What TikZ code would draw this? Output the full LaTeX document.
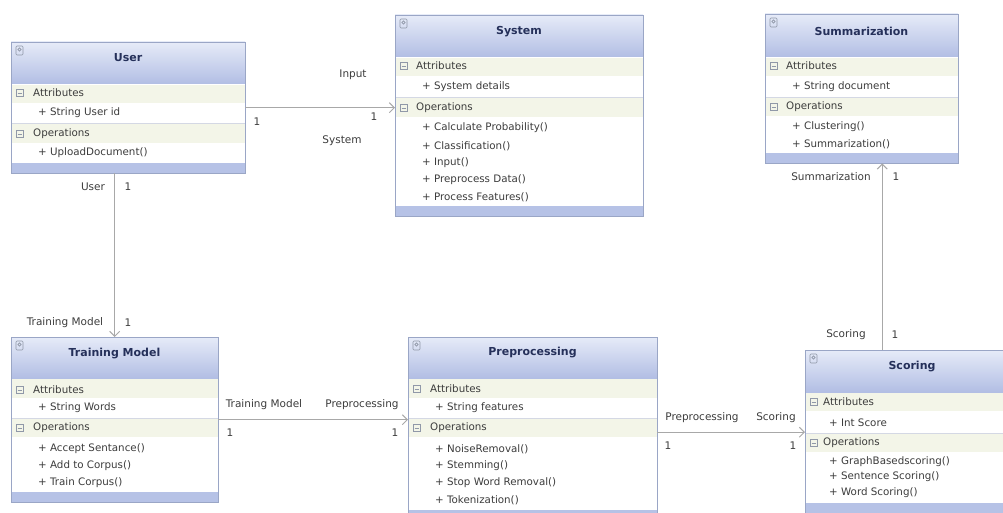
\documentclass[tikz,border=0pt]{standalone}
\usepackage{fontspec}
\setmainfont{DejaVu Sans}
\usetikzlibrary{arrows.meta, positioning}
\definecolor{hdtop}{HTML}{E6EBF8}
\definecolor{hdbot}{HTML}{B2BEE4}
\definecolor{boxline}{HTML}{9AA6C6}
\definecolor{barblue}{HTML}{B6C2E6}
\definecolor{secfill}{HTML}{F3F5E8}
\definecolor{sepline}{HTML}{D4D8E4}
\definecolor{wire}{HTML}{A8A8A8}
\definecolor{txt}{HTML}{3C3C3C}
\definecolor{titletxt}{HTML}{25305A}
\definecolor{icon}{HTML}{9098A8}

\tikzset{
  classbox/.style={fill=white, inner sep=0pt, anchor=north west},
  hdshade/.style={top color=hdtop, bottom color=hdbot},
  classtitle/.style={font=\fontsize{11}{13}\selectfont\bfseries, text=titletxt, inner sep=0pt},
  section/.style={font=\fontsize{10.3}{12}\selectfont, text=txt, anchor=west, inner sep=0pt},
  member/.style={font=\fontsize{10.3}{12}\selectfont, text=txt, anchor=west, inner sep=0pt},
  rolelabel/.style={font=\fontsize{10.5}{12}\selectfont, text=txt, inner sep=1pt},
  iconline/.style={draw=icon, line width=0.6pt},
  assoc/.style={draw=wire, line width=1pt, -{Straight Barb[length=5pt,width=10pt]}},
}

\begin{document}
\begin{tikzpicture}[x=1pt, y=-1pt]
    \useasboundingbox (0,0) rectangle (1003,513);
    \clip (0,0) rectangle (1003,513);

    % User
    \node[classbox, minimum width=234pt, minimum height=131pt] (user) at (11,42) {};
    \shade[hdshade] (11,42) rectangle (245,84);
    \node[classtitle] (usertitle) at (128,58) {User};
    \fill[secfill] (11,85) rectangle (245,103);
    \fill[secfill] (11,124) rectangle (245,143);
    \draw[sepline] (11,123.5) -- (245,123.5);
    \node[section] (userattr) at (33,93) {Attributes};
    \node[member] (userattr1) at (38,113) {+ String User id};
    \node[section] (userops) at (33,134) {Operations};
    \node[member] (userop1) at (38,153) {+ UploadDocument()};
    \fill[barblue] (11,163) rectangle (245,173);
    \draw[boxline] (user.north west) rectangle (user.south east);

    % System
    \node[classbox, minimum width=248pt, minimum height=201pt] (system) at (395,15) {};
    \shade[hdshade] (395,15) rectangle (643,57);
    \node[classtitle] (systemtitle) at (519,32) {System};
    \fill[secfill] (395,58) rectangle (643,76);
    \fill[secfill] (395,98) rectangle (643,117);
    \draw[sepline] (395,97.5) -- (643,97.5);
    \node[section] (systemattr) at (416,66) {Attributes};
    \node[member] (systemattr1) at (422,87) {+ System details};
    \node[section] (systemops) at (416,108) {Operations};
    \foreach \y/\t [count=\i] in {128/+ Calculate Probability(), 146/+ Classification(),
        163/+ Input(), 180/+ Preprocess Data(), 197/+ Process Features()} {
        \node[member] (systemop\i) at (422,\y) {\t};
    }
    \fill[barblue] (395,206) rectangle (643,216);
    \draw[boxline] (system.north west) rectangle (system.south east);

    % Summarization
    \node[classbox, minimum width=193pt, minimum height=149pt] (summ) at (765,14) {};
    \shade[hdshade] (765,14) rectangle (958,57);
    \node[classtitle] (summtitle) at (861.5,31) {Summarization};
    \fill[secfill] (765,58) rectangle (958,76);
    \fill[secfill] (765,98) rectangle (958,116);
    \draw[sepline] (765,97.5) -- (958,97.5);
    \node[section] (summattr) at (786,66) {Attributes};
    \node[member] (summattr1) at (792,87) {+ String document};
    \node[section] (summops) at (786,107) {Operations};
    \node[member] (summop1) at (792,127) {+ Clustering()};
    \node[member] (summop2) at (792,144) {+ Summarization()};
    \fill[barblue] (765,153) rectangle (958,163);
    \draw[boxline] (summ.north west) rectangle (summ.south east);

    % Training Model
    \node[classbox, minimum width=207pt, minimum height=165pt] (training) at (11,337) {};
    \shade[hdshade] (11,337) rectangle (218,378);
    \node[classtitle] (trainingtitle) at (114.5,354) {Training Model};
    \fill[secfill] (11,379) rectangle (218,398);
    \fill[secfill] (11,419) rectangle (218,437);
    \draw[sepline] (11,418.5) -- (218,418.5);
    \node[section] (trainingattr) at (33,390) {Attributes};
    \node[member] (trainingattr1) at (38,408) {+ String Words};
    \node[section] (trainingops) at (33,428) {Operations};
    \foreach \y/\t [count=\i] in {449/+ Accept Sentance(), 466/+ Add to Corpus(), 483/+ Train Corpus()} {
        \node[member] (trainingop\i) at (38,\y) {\t};
    }
    \fill[barblue] (11,492) rectangle (218,502);
    \draw[boxline] (training.north west) rectangle (training.south east);

    % Preprocessing
    \node[classbox, minimum width=249pt, minimum height=190pt] (prep) at (408,337) {};
    \shade[hdshade] (408,337) rectangle (657,378);
    \node[classtitle] (preptitle) at (532.5,353) {Preprocessing};
    \fill[secfill] (408,379) rectangle (657,398);
    \fill[secfill] (408,419) rectangle (657,437);
    \draw[sepline] (408,418.5) -- (657,418.5);
    \node[section] (prepattr) at (430,389) {Attributes};
    \node[member] (prepattr1) at (435,408) {+ String features};
    \node[section] (prepops) at (430,428) {Operations};
    \foreach \y/\t [count=\i] in {449/+ NoiseRemoval(), 466/+ Stemming(), 483/+ Stop Word Removal(), 500/+ Tokenization()} {
        \node[member] (prepop\i) at (435,\y) {\t};
    }
    \fill[barblue] (408,510) rectangle (657,527);
    \draw[boxline] (prep.north west) rectangle (prep.south east);

    % Scoring
    \node[classbox, minimum width=214pt, minimum height=164pt] (scoring) at (805,350) {};
    \shade[hdshade] (805,350) rectangle (1019,392);
    \node[classtitle] (scoringtitle) at (912,367) {Scoring};
    \fill[secfill] (805,393) rectangle (1019,411);
    \fill[secfill] (805,434) rectangle (1019,452);
    \draw[sepline] (805,433.5) -- (1019,433.5);
    \node[section] (scoringattr) at (823,402) {Attributes};
    \node[member] (scoringattr1) at (829,423) {+ Int Score};
    \node[section] (scoringops) at (823,443) {Operations};
    \foreach \y/\t [count=\i] in {462/+ GraphBasedscoring(), 477/+ Sentence Scoring(), 493/+ Word Scoring()} {
        \node[member] (scoringop\i) at (829,\y) {\t};
    }
    \fill[barblue] (805,503) rectangle (1019,514);
    \draw[boxline] (scoring.north west) rectangle (scoring.south east);

    % Icons
    \foreach \x/\y in {11/42, 395/15, 765/14, 11/337, 408/337, 805/350} {
        \draw[iconline, rounded corners=1pt] (\x+5,\y+4) rectangle (\x+12,\y+13);
        \draw[iconline] (\x+8.5,\y+7.5) circle (1.6pt);
    }
    \foreach \x/\y in {11/93, 11/134, 395/66, 395/108, 765/66, 765/107,
        11/390, 11/428, 408/389, 408/428, 805/402, 805/443} {
        \draw[iconline] (\x+5,\y-3.5) rectangle (\x+12,\y+3.5) (\x+6.5,\y) -- (\x+10.5,\y);
    }

    % Associations
    \draw[assoc] (user.east) -- (user.east -| system.west);
    \draw[assoc] (training.north |- user.south) -- (training.north);
    \draw[assoc] (training.east) -- (training.east -| prep.west);
    \draw[assoc] (prep.east) -- (prep.east -| scoring.west);
    \draw[assoc] ([xshift=-30pt]scoring.north) -- ([xshift=-30pt]scoring.north |- summ.south);

    % Role labels
    \node[rolelabel] (lbinput) at (353,75) {Input};
    \node[rolelabel] (lbuserone) at (257,122) {1};
    \node[rolelabel] (lbsysone) at (374,117) {1};
    \node[rolelabel] (lbsystem) at (342,141) {System};
    \node[rolelabel] (lbuser) at (93,187) {User};
    \node[rolelabel] (lbuserone2) at (128,187) {1};
    \node[rolelabel] (lbtrain) at (65,323) {Training Model};
    \node[rolelabel] (lbtrainone) at (128,323) {1};
    \node[rolelabel] (lbtrain2) at (264,405) {Training Model};
    \node[rolelabel] (lbprep) at (362,405) {Preprocessing};
    \node[rolelabel] (lbtrainone2) at (230,433) {1};
    \node[rolelabel] (lbprepone) at (395,433) {1};
    \node[rolelabel] (lbprep2) at (702,418) {Preprocessing};
    \node[rolelabel] (lbscore) at (776,418) {Scoring};
    \node[rolelabel] (lbprepone2) at (668,446) {1};
    \node[rolelabel] (lbscoreone) at (793,446) {1};
    \node[rolelabel] (lbsumm) at (831,177) {Summarization};
    \node[rolelabel] (lbsummone) at (896,177) {1};
    \node[rolelabel] (lbscore2) at (846,335) {Scoring};
    \node[rolelabel] (lbscoreone2) at (895,335) {1};
\end{tikzpicture}
\end{document}
